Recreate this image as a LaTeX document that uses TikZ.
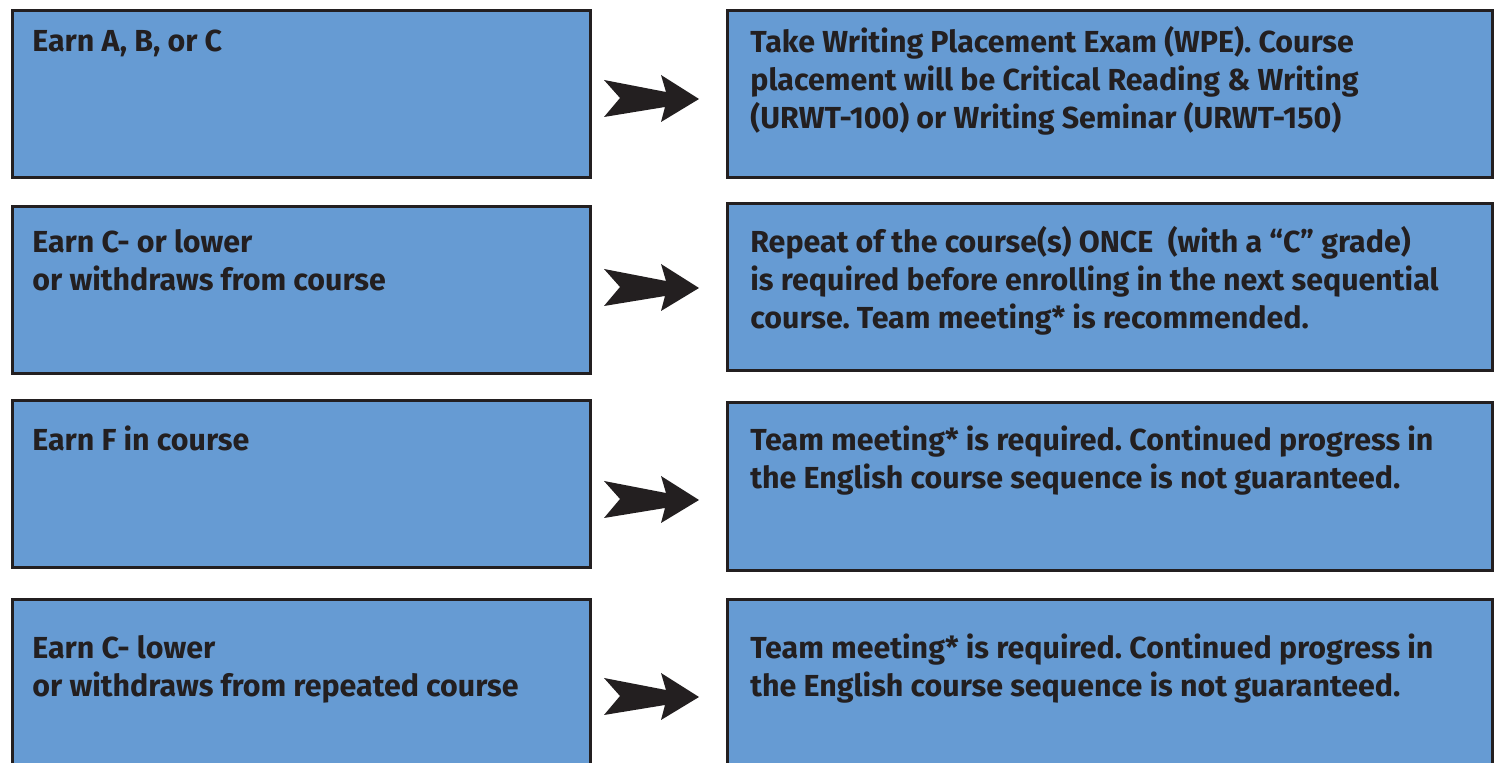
\documentclass[tikz,border=0pt]{standalone}
\usepackage{fontspec}
\setmainfont{Fira Sans}
\usetikzlibrary{fit}
\definecolor{boxblue}{RGB}{102,155,211}
\definecolor{ink}{RGB}{35,31,32}
\frenchspacing
\tikzset{
  flowbox/.style={draw=ink, line width=1.5pt, fill=boxblue, inner sep=0pt, rectangle},
  boxtext/.style={anchor=base west, inner sep=0pt, align=left, text=ink,
    font=\bfseries\fontsize{15.2}{19}\selectfont},
  bigarrow/.pic={
    \fill[ink] (0,0) -- (-38,-24) -- (-33,-7) -- (-95,-19) -- (-79,-1)
      -- (-95,18) -- (-34,8) -- (-38,23) -- cycle;
  }
}
\begin{document}
\begin{tikzpicture}[x=0.5pt, y=-0.5pt]
\clip (0,0) rectangle (1496,763);
\fill[white] (0,0) rectangle (1496,763);
% left column
\node[flowbox, fit={(12,10.5) (590,177.5)}] (L1) {};
\node[flowbox, fit={(12,206.5) (590,374)}] (L2) {};
\node[flowbox, fit={(12,400.5) (590,568)}] (L3) {};
\node[flowbox, fit={(12,600) (590,790)}] (L4) {};
% right column
\node[flowbox, fit={(727,10.5) (1492,177.5)}] (R1) {};
\node[flowbox, fit={(727,204) (1492,371)}] (R2) {};
\node[flowbox, fit={(727,403) (1492,570.5)}] (R3) {};
\node[flowbox, fit={(727,600) (1492,790)}] (R4) {};
% texts (anchor = baseline of the last line)
\node[boxtext] (tL1) at (32,52) {Earn A, B, or C};
\node[boxtext] (tL2) at (32,291) {Earn C- or lower\\or withdraws from course};
\node[boxtext] (tL3) at (32,451) {Earn F in course};
\node[boxtext] (tL4) at (32,697) {Earn C- lower\\or withdraws from repeated course};
\node[boxtext] (tR1) at (750,129) {Take Writing Placement Exam (WPE). Course\\placement will be Critical Reading \& Writing\\(URWT-100) or Writing Seminar (URWT-150)};
\node[boxtext] (tR2) at (750,329) {Repeat of the course(s) ONCE\ \ (with a “C” grade)\\is required before enrolling in the next sequential\\course. Team meeting* is recommended.};
\node[boxtext] (tR3) at (750,489) {Team meeting* is required. Continued progress in\\the English course sequence is not guaranteed.};
\node[boxtext] (tR4) at (750,697) {Team meeting* is required. Continued progress in\\the English course sequence is not guaranteed.};
% arrows
\pic at (699,99) {bigarrow};
\pic at (699,288) {bigarrow};
\pic at (699,500) {bigarrow};
\pic at (699,697) {bigarrow};
\end{tikzpicture}
\end{document}
